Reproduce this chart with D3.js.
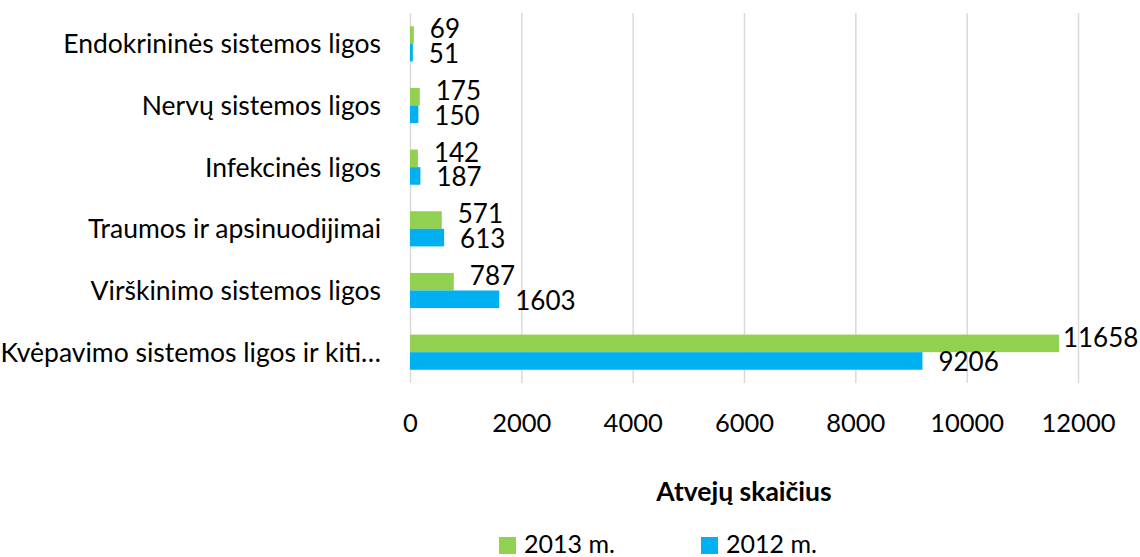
<!DOCTYPE html>
<html>
<head>
<meta charset="utf-8">
<script src="https://cdn.jsdelivr.net/npm/d3@7"></script>
<style>
  body { margin: 0; background: #fff; }
  text { font-family: Lato, "Open Sans", sans-serif; fill: #000; }
</style>
</head>
<body>
<div id="chart"></div>
<script>
// data
var categories = [
  "Endokrininės sistemos ligos",
  "Nervų sistemos ligos",
  "Infekcinės ligos",
  "Traumos ir apsinuodijimai",
  "Virškinimo sistemos ligos",
  "Kvėpavimo sistemos ligos ir kiti…"
];
var seriesNames = ["2013 m.", "2012 m."];
var values2013 = [69, 175, 142, 571, 787, 11658];
var values2012 = [51, 150, 187, 613, 1603, 9206];
var xTicks = [0, 2000, 4000, 6000, 8000, 10000, 12000];

var colors = { "2013 m.": "#92D050", "2012 m.": "#00B0F0" };
var width = 1140, height = 557;
var fontSize = 26;

var plot = {left: 410, right: 1078, top: 13, bottom: 383};

var svg = d3.select("#chart").append("svg")
    .attr("width", width)
    .attr("height", height);

var x = d3.scaleLinear().domain([0, 12000]).range([plot.left, plot.right]);

var y = d3.scaleBand()
    .domain(categories)
    .range([plot.top, plot.bottom])
    .paddingInner(0.43)
    .paddingOuter(0.215);

var y1 = d3.scaleBand()
    .domain(seriesNames)
    .range([0, y.bandwidth()]);

// gridlines + tick labels
var xAxis = svg.append("g")
    .attr("transform", "translate(0," + plot.bottom + ")")
    .call(d3.axisBottom(x).tickValues(xTicks).tickFormat(d3.format("d"))
      .tickSize(-(plot.bottom - plot.top)).tickPadding(31));
xAxis.select(".domain").remove();
xAxis.selectAll("line").attr("stroke", "#d9d9d9").attr("stroke-width", 1.5);
xAxis.selectAll("text")
    .style("font-family", "Lato, 'Open Sans', sans-serif")
    .style("font-size", "25.5px")
    .attr("fill", "#000");

// category labels
svg.append("g").selectAll("text")
    .data(categories)
    .enter().append("text")
    .attr("x", plot.left - 29)
    .attr("y", function(d) { return y(d) + y.bandwidth() / 2; })
    .attr("dy", "0.36em")
    .attr("text-anchor", "end")
    .style("font-size", "26.5px")
    .text(function(d) { return d; });

// bars
var rows = categories.map(function(c, i) {
  return {cat: c, vals: [
    {name: "2013 m.", value: values2013[i]},
    {name: "2012 m.", value: values2012[i]}
  ]};
});

var group = svg.append("g").selectAll("g")
    .data(rows)
    .enter().append("g")
    .attr("transform", function(d) { return "translate(0," + y(d.cat) + ")"; });

group.selectAll("rect")
    .data(function(d) { return d.vals; })
    .enter().append("rect")
    .attr("x", x(0))
    .attr("y", function(d) { return y1(d.name); })
    .attr("width", function(d) { return x(d.value) - x(0); })
    .attr("height", y1.bandwidth())
    .attr("fill", function(d) { return colors[d.name]; });

group.selectAll("text")
    .data(function(d) { return d.vals; })
    .enter().append("text")
    .attr("x", function(d) { return x(d.value) + (d.value > 11000 ? 4 : 16); })
    .attr("y", function(d) { return y1(d.name) + y1.bandwidth() / 2 + (d.name === "2013 m." ? -6 : 1); })
    .attr("dy", "0.36em")
    .style("font-size", fontSize + "px")
    .text(function(d) { return d.value; });

// axis title
svg.append("text")
    .attr("x", (plot.left + plot.right) / 2)
    .attr("y", 501)
    .attr("text-anchor", "middle")
    .style("font-size", "26.5px")
    .style("font-weight", "bold")
    .text("Atvejų skaičius");

// legend
var legend = svg.append("g").selectAll("g")
    .data(seriesNames)
    .enter().append("g")
    .attr("transform", function(d, i) { return "translate(" + (499 + i * 202) + ",537)"; });

legend.append("rect")
    .attr("width", 17)
    .attr("height", 17)
    .attr("fill", function(d) { return colors[d]; });

legend.append("text")
    .attr("x", 25)
    .attr("y", 16)
    .style("font-size", "25px")
    .text(function(d) { return d; });
</script>
</body>
</html>
